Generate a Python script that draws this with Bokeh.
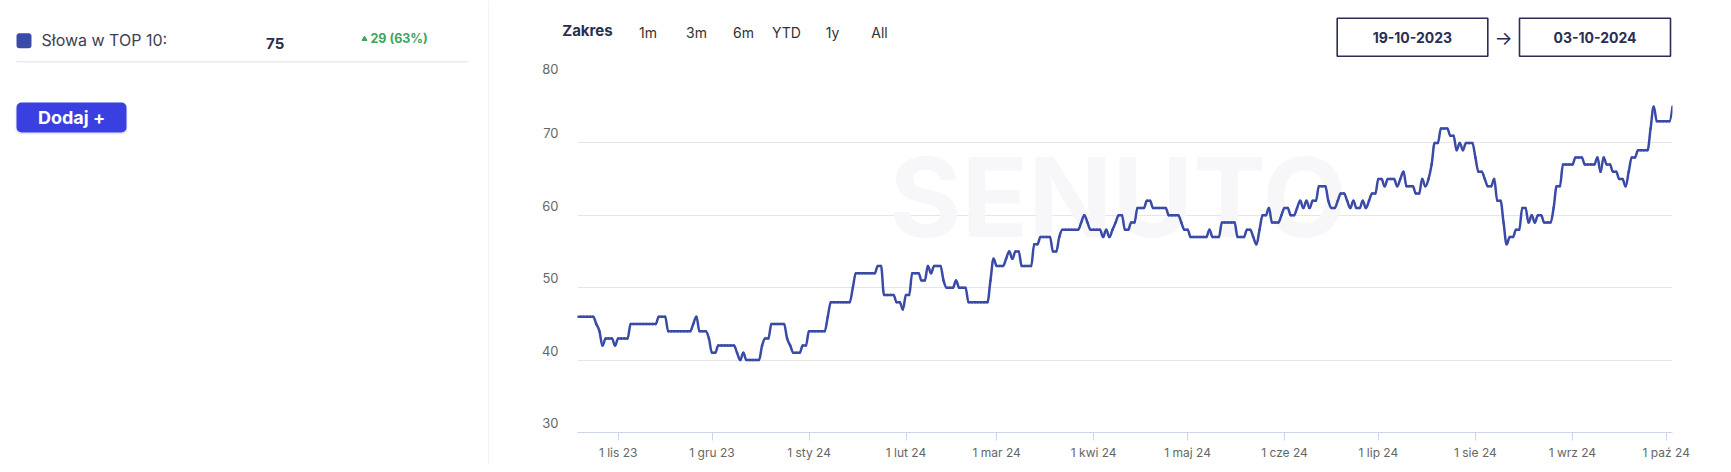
from datetime import datetime, timezone
from bokeh.plotting import figure
from bokeh.layouts import row, column
from bokeh.models import Range1d, FixedTicker, BoxAnnotation, Label
from bokeh.core.properties import value
from bokeh.embed import file_html
from bokeh.resources import INLINE

# ---------------- data ----------------
series_name = "Słowa w TOP 10:"
last_value = "75"
change_text = "29 (63%)"
button_text = "Dodaj +"
range_title = "Zakres"
range_buttons = ["1m", "3m", "6m", "YTD", "1y", "All"]
date_from = "19-10-2023"
date_to = "03-10-2024"

start_date = datetime(2023, 10, 19, tzinfo=timezone.utc)
end_date = datetime(2024, 10, 3, tzinfo=timezone.utc)

# daily values, 19-10-2023 .. 03-10-2024
values = [
    46, 46, 46, 46, 46, 46, 45, 44, 42, 43,
    43, 43, 42, 43, 43, 43, 43, 45, 45, 45,
    45, 45, 45, 45, 45, 45, 46, 46, 46, 44,
    44, 44, 44, 44, 44, 44, 44, 45, 46, 44,
    44, 44, 43, 41, 41, 42, 42, 42, 42, 42,
    42, 41, 40, 41, 40, 40, 40, 40, 40, 42,
    43, 43, 45, 45, 45, 45, 45, 43, 42, 41,
    41, 41, 42, 42, 44, 44, 44, 44, 44, 44,
    46, 48, 48, 48, 48, 48, 48, 48, 50, 52,
    52, 52, 52, 52, 52, 52, 53, 53, 49, 49,
    49, 49, 48, 48, 47, 49, 49, 52, 52, 52,
    51, 51, 53, 52, 53, 53, 53, 51, 50, 50,
    50, 51, 50, 50, 50, 48, 48, 48, 48, 48,
    48, 48, 51, 54, 53, 53, 53, 54, 55, 54,
    55, 55, 53, 53, 53, 53, 56, 56, 57, 57,
    57, 57, 55, 55, 57, 58, 58, 58, 58, 58,
    58, 59, 60, 59, 58, 58, 58, 58, 57, 58,
    57, 58, 59, 60, 60, 58, 58, 59, 59, 61,
    61, 61, 62, 62, 61, 61, 61, 61, 61, 60,
    60, 60, 60, 59, 58, 58, 57, 57, 57, 57,
    57, 57, 58, 57, 57, 57, 59, 59, 59, 59,
    59, 57, 57, 57, 58, 58, 57, 56, 58, 60,
    60, 61, 59, 59, 59, 60, 61, 61, 60, 60,
    61, 62, 61, 62, 61, 62, 62, 64, 64, 64,
    62, 61, 61, 62, 63, 63, 62, 61, 62, 61,
    61, 62, 61, 62, 63, 63, 65, 65, 64, 65,
    65, 65, 64, 65, 66, 64, 64, 64, 63, 63,
    65, 64, 65, 67, 70, 70, 72, 72, 72, 71,
    71, 69, 70, 69, 70, 70, 70, 68, 66, 66,
    65, 64, 64, 65, 62, 62, 59, 56, 57, 57,
    58, 58, 61, 61, 59, 60, 59, 60, 60, 59,
    59, 59, 61, 64, 64, 67, 67, 67, 67, 68,
    68, 68, 67, 67, 67, 67, 68, 66, 68, 67,
    67, 66, 66, 65, 65, 64, 66, 68, 68, 69,
    69, 69, 69, 72, 75, 73, 73, 73, 73, 73,
    75,
]

y_ticks = [30, 40, 50, 60, 70, 80]
y_labels = ["30", "40", "50", "60", "70", "80"]
month_starts = [datetime(2023, 11, 1), datetime(2023, 12, 1), datetime(2024, 1, 1),
                datetime(2024, 2, 1), datetime(2024, 3, 1), datetime(2024, 4, 1),
                datetime(2024, 5, 1), datetime(2024, 6, 1), datetime(2024, 7, 1),
                datetime(2024, 8, 1), datetime(2024, 9, 1), datetime(2024, 10, 1)]
month_labels = ["1 lis 23", "1 gru 23", "1 sty 24", "1 lut 24", "1 mar 24", "1 kwi 24",
                "1 maj 24", "1 cze 24", "1 lip 24", "1 sie 24", "1 wrz 24", "1 paź 24"]

# ---------------- style ----------------
FONT = value("Inter")
LINE_COLOR = "#3a4aa7"
NAVY = "#2b2d52"
GREY_TXT = "#666666"
DAY_MS = 86400000


def to_ms(d):
    if d.tzinfo is None:
        d = d.replace(tzinfo=timezone.utc)
    return int(d.timestamp() * 1000)


start_ms = to_ms(start_date)
end_ms = to_ms(end_date)

TOTAL_H = 464
TOP_H = 60

# ---------------- left panel ----------------
LW, LH = 489, TOTAL_H
left = figure(width=LW, height=LH, x_range=Range1d(0, LW), y_range=Range1d(0, LH),
              output_backend="svg", toolbar_location=None, frame_align=False,
              min_border=0, min_border_left=0, min_border_right=0,
              min_border_top=0, min_border_bottom=0)
left.axis.visible = False
left.grid.visible = False
left.outline_line_color = None
left.background_fill_color = "white"
left.border_fill_color = "white"


def LY(v):
    return LH - v


left.add_layout(BoxAnnotation(left=16, right=31, top=LY(32.7), bottom=LY(47.7),
                              fill_color=LINE_COLOR, fill_alpha=1, line_alpha=0,
                              border_radius=3, level="underlay"))
left.text(x=[41], y=[LY(39)], text=[series_name], text_font=FONT,
          text_font_size="16px", text_color="#3d3e52", text_align="left",
          text_baseline="middle")
left.text(x=[274.7], y=[LY(43.3)], text=[last_value], text_font=FONT,
          text_font_size="15px", text_font_style="bold", text_color=NAVY,
          text_align="center", text_baseline="middle")
left.scatter(x=[364], y=[LY(38.5)], marker="triangle", size=5,
             fill_color="#3ea45c", line_color="#3ea45c")
left.text(x=[370], y=[LY(37.7)], text=[change_text], text_font=FONT,
          text_font_size="12.5px", text_font_style="bold", text_color="#3ea45c",
          text_align="left", text_baseline="middle")
left.segment(x0=[16], y0=[LY(61.3)], x1=[468], y1=[LY(61.3)],
             line_color="#e2e2e2", line_width=1)
# button shadow + button
left.add_layout(BoxAnnotation(left=15, right=127, top=LY(102), bottom=LY(134),
                              fill_color="#3b3fe3", fill_alpha=0.12, line_alpha=0,
                              border_radius=6, level="underlay"))
left.add_layout(BoxAnnotation(left=16, right=126, top=LY(102), bottom=LY(132),
                              fill_color="#3a3fe2", fill_alpha=1, line_alpha=0,
                              border_radius=5, level="underlay"))
left.text(x=[71], y=[LY(117)], text=[button_text], text_font=FONT,
          text_font_size="18px", text_font_style="bold", text_color="white",
          text_align="center", text_baseline="middle")
left.segment(x0=[488.5], y0=[0], x1=[488.5], y1=[LH],
             line_color="#e6e6e6", line_width=1)

# ---------------- top bar (range selector) ----------------
RW = 1234
top = figure(width=RW, height=TOP_H, x_range=Range1d(0, RW), y_range=Range1d(0, TOP_H),
             output_backend="svg", toolbar_location=None, frame_align=False,
             min_border=0, min_border_left=0, min_border_right=0,
             min_border_top=0, min_border_bottom=0)
top.axis.visible = False
top.grid.visible = False
top.outline_line_color = None
top.background_fill_color = "white"
top.border_fill_color = "white"


def TY(v):
    return TOP_H - v


top.text(x=[72.7], y=[TY(30)], text=[range_title], text_font=FONT,
         text_font_size="15px", text_font_style="bold", text_color=NAVY,
         text_align="left", text_baseline="middle")
btn_x = [158.5, 207, 254, 297, 343, 390]
top.text(x=btn_x, y=[TY(32.3)] * len(btn_x), text=range_buttons, text_font=FONT,
         text_font_size="14px", text_color="#333333", text_align="center",
         text_baseline="middle")
top.quad(left=[847.7, 1030], right=[998.3, 1181], top=[TY(17.7), TY(17.7)],
         bottom=[TY(55.7), TY(55.7)], fill_color="white", line_color=NAVY,
         line_width=1.6)
top.text(x=[922.9, 1105.5], y=[TY(36.5), TY(36.5)], text=[date_from, date_to],
         text_font=FONT, text_font_size="14px", text_font_style="bold",
         text_color=NAVY, text_align="center", text_baseline="middle")
top.text(x=[1014], y=[TY(38)], text=["→"], text_font=FONT, text_font_size="19px",
         text_color=NAVY, text_align="center", text_baseline="middle")

# ---------------- chart ----------------
CH = TOTAL_H - TOP_H
p = figure(width=RW, height=CH, x_axis_type="datetime",
           x_range=Range1d(start_ms, end_ms), y_range=Range1d(30, 80),
           output_backend="svg", toolbar_location=None, frame_align=False,
           min_border_left=88, min_border_right=51, min_border_top=10,
           min_border_bottom=32)
p.outline_line_color = None
p.background_fill_color = "white"
p.border_fill_color = "white"

p.xgrid.visible = False
p.ygrid.ticker = FixedTicker(ticks=y_ticks)
p.ygrid.grid_line_color = "#e6e6e6"
p.ygrid.grid_line_width = 1

p.yaxis.ticker = FixedTicker(ticks=y_ticks)
# labels sit slightly above their grid line (second, empty line lifts the text)
p.yaxis.major_label_overrides = {t: lab + "\n" for t, lab in zip(y_ticks, y_labels)}
p.yaxis.axis_line_color = None
p.yaxis.major_tick_line_color = None
p.yaxis.minor_tick_line_color = None
p.yaxis.major_tick_in = 0
p.yaxis.major_tick_out = 0
p.yaxis.major_label_standoff = 19
p.yaxis.major_label_text_font = "Inter"
p.yaxis.major_label_text_font_size = "13px"
p.yaxis.major_label_text_color = GREY_TXT

month_ms = [to_ms(d) for d in month_starts]
p.xaxis.ticker = FixedTicker(ticks=month_ms)
p.xaxis.major_label_overrides = {m: lab for m, lab in zip(month_ms, month_labels)}
p.xaxis.axis_line_color = "#ccd6eb"
p.xaxis.axis_line_width = 1
p.xaxis.major_tick_line_color = "#ccd6eb"
p.xaxis.major_tick_in = 0
p.xaxis.major_tick_out = 8
p.xaxis.minor_tick_line_color = None
p.xaxis.major_label_standoff = 4
p.xaxis.major_label_text_font = "Inter"
p.xaxis.major_label_text_font_size = "12px"
p.xaxis.major_label_text_color = GREY_TXT

# watermark
p.add_layout(Label(x=start_ms + 172.9 * DAY_MS, y=62.5, text="SENUTO",
                   text_font="Inter", text_font_size="110px", text_font_style="bold",
                   text_color="#f7f7fa", text_align="center", text_baseline="middle",
                   level="underlay"))

# spline (Highcharts-like smoothing) drawn as bezier segments
xs = list(range(len(values)))
ys = [float(v) for v in values]
n = len(xs)
sm = 1.5
lc = [(xs[i], ys[i]) for i in range(n)]
rc = [(xs[i], ys[i]) for i in range(n)]
for i in range(1, n - 1):
    px, py = xs[i], ys[i]
    lx, ly = xs[i - 1], ys[i - 1]
    nx, ny = xs[i + 1], ys[i + 1]
    lcx = (sm * px + lx) / (sm + 1)
    lcy = (sm * py + ly) / (sm + 1)
    rcx = (sm * px + nx) / (sm + 1)
    rcy = (sm * py + ny) / (sm + 1)
    corr = ((rcy - lcy) * (rcx - px)) / (rcx - lcx) + py - rcy
    lcy += corr
    rcy += corr
    if lcy > ly and lcy > py:
        lcy = max(ly, py)
        rcy = 2 * py - lcy
    elif lcy < ly and lcy < py:
        lcy = min(ly, py)
        rcy = 2 * py - lcy
    if rcy > ny and rcy > py:
        rcy = max(ny, py)
        lcy = 2 * py - rcy
    elif rcy < ny and rcy < py:
        rcy = min(ny, py)
        lcy = 2 * py - rcy
    lc[i] = (lcx, lcy)
    rc[i] = (rcx, rcy)


def dx(d):
    return start_ms + d * DAY_MS


p.bezier(x0=[dx(xs[i - 1]) for i in range(1, n)], y0=[ys[i - 1] for i in range(1, n)],
         x1=[dx(xs[i]) for i in range(1, n)], y1=[ys[i] for i in range(1, n)],
         cx0=[dx(rc[i - 1][0]) for i in range(1, n)], cy0=[rc[i - 1][1] for i in range(1, n)],
         cx1=[dx(lc[i][0]) for i in range(1, n)], cy1=[lc[i][1] for i in range(1, n)],
         line_color=LINE_COLOR, line_width=2.5, line_cap="round", line_join="round")

layout = row(left, column(top, p))
open("out.html", "w").write(file_html(layout, INLINE))
